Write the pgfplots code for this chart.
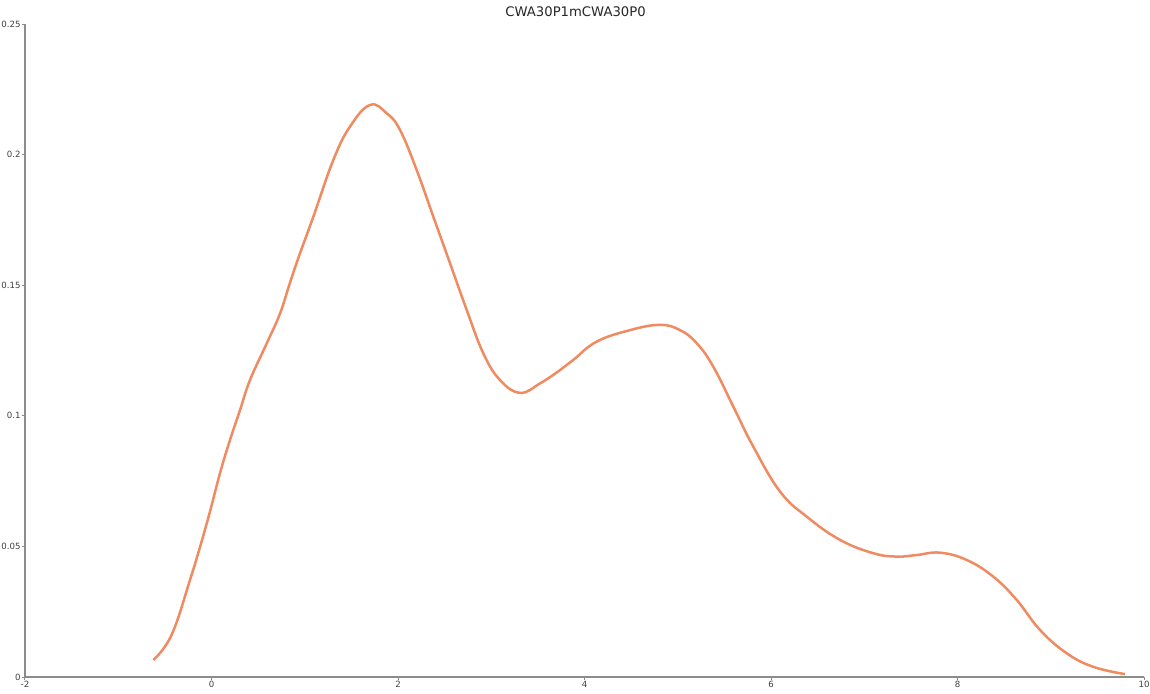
\documentclass[border=0pt]{standalone}
\usepackage{pgfplots}
\pgfplotsset{compat=1.18}
\usepackage{fontspec}
\setmainfont{DejaVu Sans}
\definecolor{curve}{RGB}{240,138,96}
\definecolor{axisgray}{RGB}{140,140,140}
\begin{document}
\begin{tikzpicture}
\useasboundingbox (-12.5pt,-8pt) rectangle (562.5pt,338.5pt);
\begin{axis}[
    scale only axis,
    width=559.5pt, height=326.5pt,
    xmin=-2, xmax=10, ymin=0, ymax=0.25,
    axis x line*=bottom, axis y line*=left,
    axis line style={axisgray, line width=0.6pt, -},
    every tick/.style={axisgray, line width=0.5pt},
    tick align=outside, major tick length=1.6pt,
    xtick={-2,0,2,4,6,8,10},
    xticklabels={-2,0,2,4,6,8,10},
    ytick={0,0.05,0.1,0.15,0.2,0.25},
    yticklabels={0,0.05,0.1,0.15,0.2,0.25},
    scaled ticks=false,
    tick label style={font=\fontsize{4.3}{5}\selectfont, text=black!75},
    xticklabel style={inner sep=0.5pt, yshift=0.3pt},
    yticklabel style={inner sep=0.4pt},
    title={CWA30P1mCWA30P0},
    title style={font=\fontsize{6.6}{8}\selectfont, text=black!85, at={(0.492,1)}, anchor=center},
  ]
  \addplot[curve, line width=1.25pt, smooth, tension=0.7] coordinates {
    (-0.624,0.0065) (-0.430,0.0160) (-0.231,0.0371) (-0.051,0.0588)
    (0.091,0.0780) (0.198,0.0907) (0.306,0.1022) (0.413,0.1137)
    (0.592,0.1277) (0.735,0.1392) (0.842,0.1510) (0.949,0.1622)
    (1.092,0.1762) (1.306,0.1979) (1.485,0.2107) (1.700,0.2190)
    (1.879,0.2158) (2.022,0.2094) (2.200,0.1941) (2.379,0.1762)
    (2.558,0.1584) (2.737,0.1405) (2.915,0.1239) (3.094,0.1137)
    (3.308,0.1088) (3.523,0.1124) (3.737,0.1175) (3.880,0.1214)
    (4.131,0.1284) (4.488,0.1328) (4.810,0.1348) (5.024,0.1328)
    (5.203,0.1278) (5.381,0.1188) (5.596,0.1035) (5.810,0.0882)
    (6.097,0.0710) (6.383,0.0614) (6.740,0.0525) (7.097,0.0474)
    (7.348,0.0461) (7.562,0.0467) (7.812,0.0476) (8.099,0.0448)
    (8.384,0.0384) (8.635,0.0295) (8.885,0.0180) (9.171,0.0091)
    (9.456,0.0039) (9.796,0.0011)
  };
\end{axis}
\end{tikzpicture}
\end{document}
